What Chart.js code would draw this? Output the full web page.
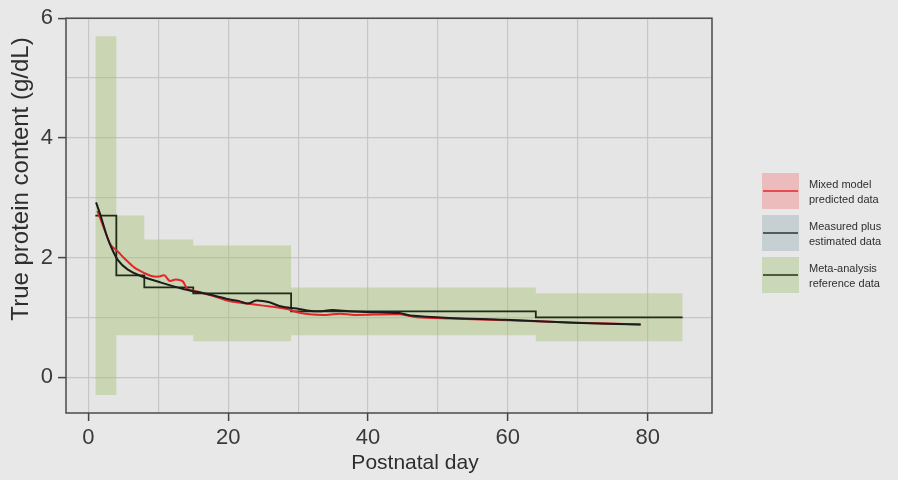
<!DOCTYPE html>
<html>
<head>
<meta charset="utf-8">
<script src="https://cdn.jsdelivr.net/npm/chart.js@4"></script>
<style>
  body { margin: 0; background: #e8e8e8; }
  #wrap { width: 898px; height: 480px; }
</style>
</head>
<body>
<div id="wrap"><canvas id="proteinChart" width="898" height="480"></canvas></div>
<script>
// meta-analysis reference: value holds from this day until the next one
const refDays = [1, 4, 8, 15, 29, 64, 85];
const refMean = [2.7, 1.7, 1.5, 1.4, 1.1, 1.0, 1.0];
const refUpper = [5.7, 2.7, 2.3, 2.2, 1.5, 1.4, 1.4];
const refLower = [-0.3, 0.7, 0.7, 0.6, 0.7, 0.6, 0.6];

// measured plus estimated data
const measuredDays = [1.1, 1.8, 2.5, 3.2, 4.2, 5.6, 7.5, 10.4, 13.7, 17.3, 20.1, 21.6, 22.8, 24.0, 25.9, 27.3, 28.7, 30.1, 31.6, 33.0, 34.9, 37.3, 39.7, 44.5, 46.0, 51.6, 59.7, 69.3, 79.0];
const measuredVals = [2.92, 2.68, 2.41, 2.19, 1.96, 1.80, 1.69, 1.58, 1.47, 1.38, 1.30, 1.27, 1.23, 1.28, 1.25, 1.19, 1.16, 1.14, 1.11, 1.10, 1.12, 1.10, 1.09, 1.07, 1.03, 0.99, 0.96, 0.91, 0.88];

// mixed model predicted data
const mixedDays = [1.3, 2.2, 3.2, 4.2, 5.2, 6.6, 8.0, 9.0, 10.0, 10.9, 11.6, 12.5, 13.5, 14.2, 16, 18, 20.1, 22, 24, 26, 27.3, 28.7, 30, 31.6, 34, 36, 38, 44.5, 47, 52, 60, 70, 79];
const mixedVals = [2.78, 2.50, 2.21, 2.10, 1.98, 1.83, 1.74, 1.69, 1.68, 1.70, 1.61, 1.63, 1.60, 1.47, 1.42, 1.35, 1.27, 1.24, 1.21, 1.18, 1.16, 1.13, 1.08, 1.05, 1.04, 1.06, 1.04, 1.05, 1.00, 0.98, 0.95, 0.91, 0.88];

const xTicks = [0, 20, 40, 60, 80];
const xGrid = [0, 10, 20, 30, 40, 50, 60, 70, 80];
const yTicks = [0, 2, 4, 6];
const yGrid = [0, 1, 2, 3, 4, 5, 6];

const legendItems = [
    { lines: ['Mixed model', 'predicted data'], fill: '#ecbcbc', stroke: '#e3262b' },
    { lines: ['Measured plus', 'estimated data'], fill: '#c6cfd1', stroke: '#2a3535' },
    { lines: ['Meta-analysis', 'reference data'], fill: '#cad7b8', stroke: '#1e3410' }
];

function pairs(xs, ys) {
    return xs.map((x, i) => ({ x: x, y: ys[i] }));
}

const FONT = '"Liberation Sans", Arial, sans-serif';

const panelPlugin = {
    id: 'panel',
    beforeDraw(chart) {
        const ctx = chart.ctx;
        const a = chart.chartArea;
        ctx.save();
        ctx.fillStyle = '#e8e8e8';
        ctx.fillRect(0, 0, chart.width, chart.height);
        ctx.fillStyle = '#e5e5e5';
        ctx.fillRect(a.left, a.top, a.right - a.left, a.bottom - a.top);
        ctx.restore();
    },
    afterDraw(chart) {
        const ctx = chart.ctx;
        const a = chart.chartArea;
        ctx.save();
        // panel border
        ctx.strokeStyle = '#4a4a4a';
        ctx.lineWidth = 1.5;
        ctx.strokeRect(a.left, a.top, a.right - a.left, a.bottom - a.top);

        // axis titles
        ctx.fillStyle = '#2e2e2e';
        ctx.textAlign = 'center';
        ctx.textBaseline = 'middle';
        ctx.font = '21px ' + FONT;
        ctx.fillText('Postnatal day', 415, 463);
        ctx.translate(21, 179);
        ctx.rotate(-Math.PI / 2);
        ctx.font = '24px ' + FONT;
        ctx.fillText('True protein content (g/dL)', 0, 0);
        ctx.restore();

        // legend
        ctx.save();
        ctx.font = '11px ' + FONT;
        ctx.textAlign = 'left';
        ctx.textBaseline = 'middle';
        legendItems.forEach((item, i) => {
            const top = 173 + i * 42;
            ctx.fillStyle = item.fill;
            ctx.fillRect(762, top, 37, 36);
            ctx.strokeStyle = item.stroke;
            ctx.lineWidth = 1.6;
            ctx.beginPath();
            ctx.moveTo(763, top + 18);
            ctx.lineTo(798, top + 18);
            ctx.stroke();
            ctx.fillStyle = '#2e2e2e';
            ctx.fillText(item.lines[0], 809, top + 12);
            ctx.fillText(item.lines[1], 809, top + 27);
        });
        ctx.restore();
    }
};

const ctx = document.getElementById('proteinChart').getContext('2d');

new Chart(ctx, {
    type: 'line',
    data: {
        datasets: [
            {
                label: 'Measured plus estimated data',
                data: pairs(measuredDays, measuredVals),
                borderColor: '#1c1c1c',
                borderWidth: 2,
                pointRadius: 0,
                tension: 0.3,
                fill: false
            },
            {
                label: 'Mixed model predicted data',
                data: pairs(mixedDays, mixedVals),
                borderColor: '#e3262b',
                borderWidth: 2,
                pointRadius: 0,
                tension: 0.3,
                fill: false
            },
            {
                label: 'Meta-analysis mean',
                data: pairs(refDays, refMean),
                borderColor: '#1e2b16',
                borderWidth: 1.8,
                pointRadius: 0,
                stepped: 'before',
                fill: false
            },
            {
                label: 'Meta-analysis upper',
                data: pairs(refDays, refUpper),
                borderWidth: 0,
                borderColor: 'rgba(0,0,0,0)',
                backgroundColor: 'rgba(159,191,106,0.4)',
                pointRadius: 0,
                stepped: 'before',
                fill: '+1'
            },
            {
                label: 'Meta-analysis lower',
                data: pairs(refDays, refLower),
                borderWidth: 0,
                borderColor: 'rgba(0,0,0,0)',
                pointRadius: 0,
                stepped: 'before',
                fill: false
            }
        ]
    },
    options: {
        responsive: false,
        animation: false,
        events: [],
        layout: { padding: { left: 0, right: 186, top: 18, bottom: 0 } },
        plugins: {
            legend: { display: false },
            tooltip: { enabled: false }
        },
        scales: {
            x: {
                type: 'linear',
                min: -3.2,
                max: 89.2,
                afterFit: s => { s.height = 67; },
                afterBuildTicks: s => {
                    s.ticks = xGrid.map(v => ({ value: v }));
                },
                border: { display: false },
                grid: {
                    color: '#c6c6c6',
                    lineWidth: 1.2,
                    tickLength: 8,
                    tickWidth: 1.5,
                    tickColor: c => xTicks.includes(c.tick.value) ? '#444' : 'rgba(0,0,0,0)'
                },
                ticks: {
                    padding: 4,
                    color: '#3a3a3a',
                    font: { family: FONT, size: 22 },
                    maxRotation: 0,
                    autoSkip: false,
                    callback: v => xTicks.includes(v) ? v : ''
                }
            },
            y: {
                type: 'linear',
                min: -0.6,
                max: 6,
                afterFit: s => { s.width = 66; },
                afterBuildTicks: s => {
                    s.ticks = yGrid.map(v => ({ value: v }));
                },
                border: { display: false },
                grid: {
                    color: '#c6c6c6',
                    lineWidth: 1.2,
                    tickLength: 8,
                    tickWidth: 1.5,
                    tickColor: c => yTicks.includes(c.tick.value) ? '#444' : 'rgba(0,0,0,0)'
                },
                ticks: {
                    padding: 5,
                    color: '#3a3a3a',
                    font: { family: FONT, size: 22 },
                    autoSkip: false,
                    callback: v => yTicks.includes(v) ? v : ''
                }
            }
        }
    },
    plugins: [panelPlugin]
});
</script>
</body>
</html>
